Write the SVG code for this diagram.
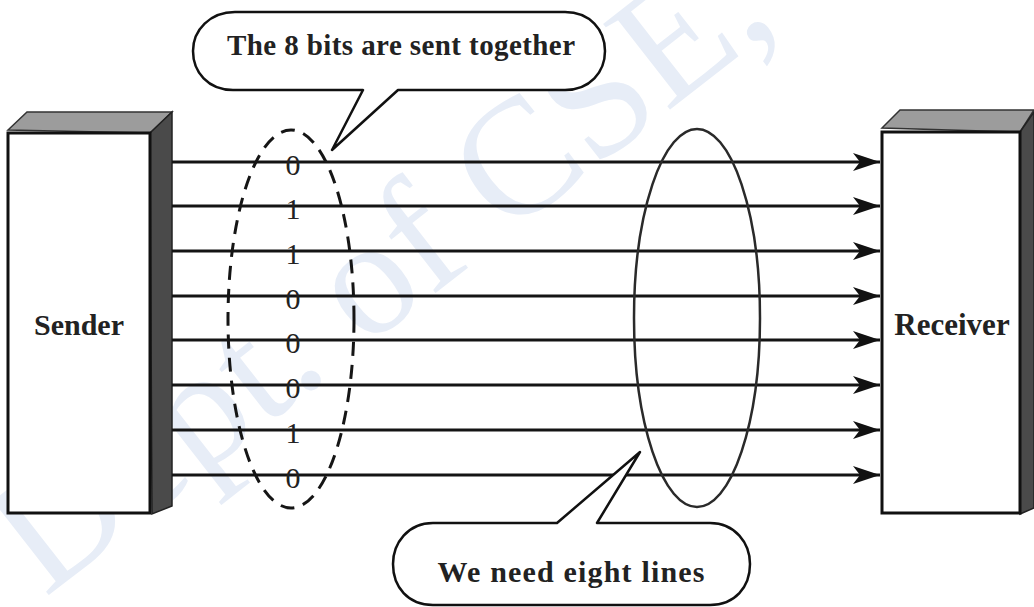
<svg xmlns="http://www.w3.org/2000/svg" width="1034" height="607" viewBox="0 0 1034 607">
<style>
.wm{font-family:"Liberation Serif",serif;font-size:166px;fill:#e7edf7}
.face{fill:#fff;stroke:#111;stroke-width:3}
.top{fill:#9c9c9c;stroke:#333;stroke-width:1.5}
.side{fill:#4a4a4a;stroke:#222;stroke-width:1.5}
.lbl{font-family:"Liberation Serif",serif;font-weight:bold;fill:#222;text-anchor:middle}
.bit{font-family:"Liberation Serif",serif;font-size:30px;fill:#222;text-anchor:middle}
.wire{stroke:#141414;stroke-width:3;fill:none;marker-end:url(#ah)}
.callout{fill:#fff;stroke:#111;stroke-width:2.5;stroke-linejoin:round}
</style>
<defs>
<marker id="ah" markerUnits="userSpaceOnUse" markerWidth="28" markerHeight="20" refX="27" refY="10" orient="auto">
<path d="M0,1 L27,10 L0,19 L7,10 Z" fill="#111"/>
</marker>
</defs>
<rect width="1034" height="607" fill="#fff"/>
<text class="wm" transform="translate(45,598) rotate(-38)">Dept. of CSE,</text>

<g id="sender">
<polygon class="top" points="8,130 27,112 172,112 150,133"/>
<polygon class="side" points="150,133 172,112 172,506 152,514"/>
<rect class="face" x="8" y="133" width="142" height="380"/>
<text class="lbl" x="79" y="335" font-size="30">Sender</text>
</g>

<g id="receiver">
<polygon class="top" points="882,128 900,110 1034,110 1020,132"/>
<polygon class="side" points="1020,132 1034,112 1034,508 1020,514"/>
<rect class="face" x="882" y="132" width="138" height="381"/>
<text class="lbl" x="952" y="335" font-size="31">Receiver</text>
</g>

<g id="connectors">
<line class="wire" x1="172" y1="162" x2="880" y2="162"/>
<line class="wire" x1="172" y1="206" x2="880" y2="206"/>
<line class="wire" x1="172" y1="251" x2="880" y2="251"/>
<line class="wire" x1="172" y1="296" x2="880" y2="296"/>
<line class="wire" x1="172" y1="340" x2="880" y2="340"/>
<line class="wire" x1="172" y1="385" x2="880" y2="385"/>
<line class="wire" x1="172" y1="430" x2="880" y2="430"/>
<line class="wire" x1="172" y1="475" x2="880" y2="475"/>
</g>

<g id="bits">
<text class="bit" x="293" y="175">0</text>
<text class="bit" x="293" y="219">1</text>
<text class="bit" x="293" y="264">1</text>
<text class="bit" x="293" y="309">0</text>
<text class="bit" x="293" y="353">0</text>
<text class="bit" x="293" y="398">0</text>
<text class="bit" x="293" y="443">1</text>
<text class="bit" x="293" y="488">0</text>
</g>

<g id="bit-group">
<ellipse cx="291" cy="319" rx="63" ry="189" fill="none" stroke="#151515" stroke-width="3" stroke-dasharray="14 9"/>
</g>

<g id="line-group">
<ellipse cx="697" cy="318" rx="63" ry="189" fill="none" stroke="#2a2a2a" stroke-width="2.5"/>
</g>

<g id="callout-top">
<path class="callout" d="M235,12 H565 C590,12 605,30 605,51 C605,72 590,90 565,90 H398 L332,150 L363,90 H233 C208,90 193,72 193,51 C193,30 210,12 235,12 Z"/>
<text class="lbl" x="401" y="55" font-size="29" textLength="348">The 8 bits are sent together</text>
</g>

<g id="callout-bottom">
<path class="callout" d="M433,523 H557 L640,452 L597,523 H710 C735,523 750,543 750,564 C750,587 735,605 710,605 H433 C408,605 393,587 393,564 C393,543 408,523 433,523 Z"/>
<text class="lbl" x="571" y="582" font-size="30" textLength="267">We need eight lines</text>
</g>
</svg>
